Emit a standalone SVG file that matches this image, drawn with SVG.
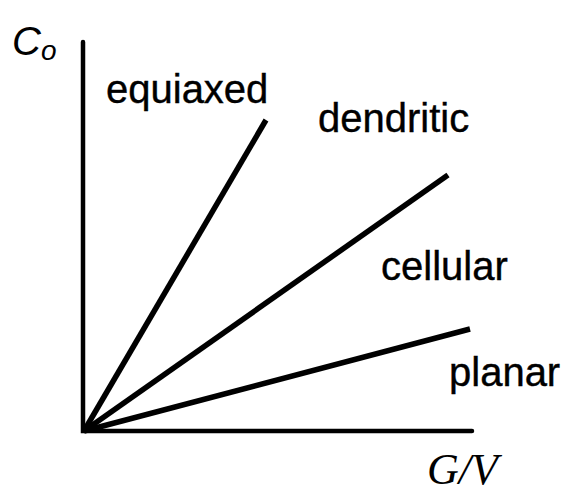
<svg xmlns="http://www.w3.org/2000/svg" width="567" height="495" viewBox="0 0 567 495">
<style>
.ax{stroke:#000;stroke-width:4.5;stroke-linecap:round;fill:none}
.ln{stroke:#000;stroke-width:5.5;stroke-linecap:butt;fill:none}
.lb{font-family:"Liberation Sans",Arial,sans-serif;font-size:40px;fill:#000;stroke:#000;stroke-width:0.4}
</style>
<rect width="567" height="495" fill="#fff"/>
<g id="connectors">
<path class="ax" d="M83,42 L83,431 L472,431"/>
<line class="ln" x1="84" y1="431" x2="266" y2="120"/>
<line class="ln" x1="84" y1="431" x2="448" y2="175"/>
<line class="ln" x1="84" y1="431" x2="470" y2="329"/>
</g>
<g id="axis-y-label"><text x="12" y="55" font-family="Liberation Sans,Arial,sans-serif" font-style="italic" font-size="40">C<tspan font-size="28" dy="5">o</tspan></text></g>
<g id="axis-x-label"><text x="427" y="484" font-family="Liberation Serif,Times New Roman,serif" font-style="italic" font-size="44">G/V</text></g>
<g id="equiaxed"><text class="lb" x="106" y="103">equiaxed</text></g>
<g id="dendritic"><text class="lb" x="318" y="132">dendritic</text></g>
<g id="cellular"><text class="lb" x="381" y="280">cellular</text></g>
<g id="planar"><text class="lb" x="449" y="386">planar</text></g>
</svg>
